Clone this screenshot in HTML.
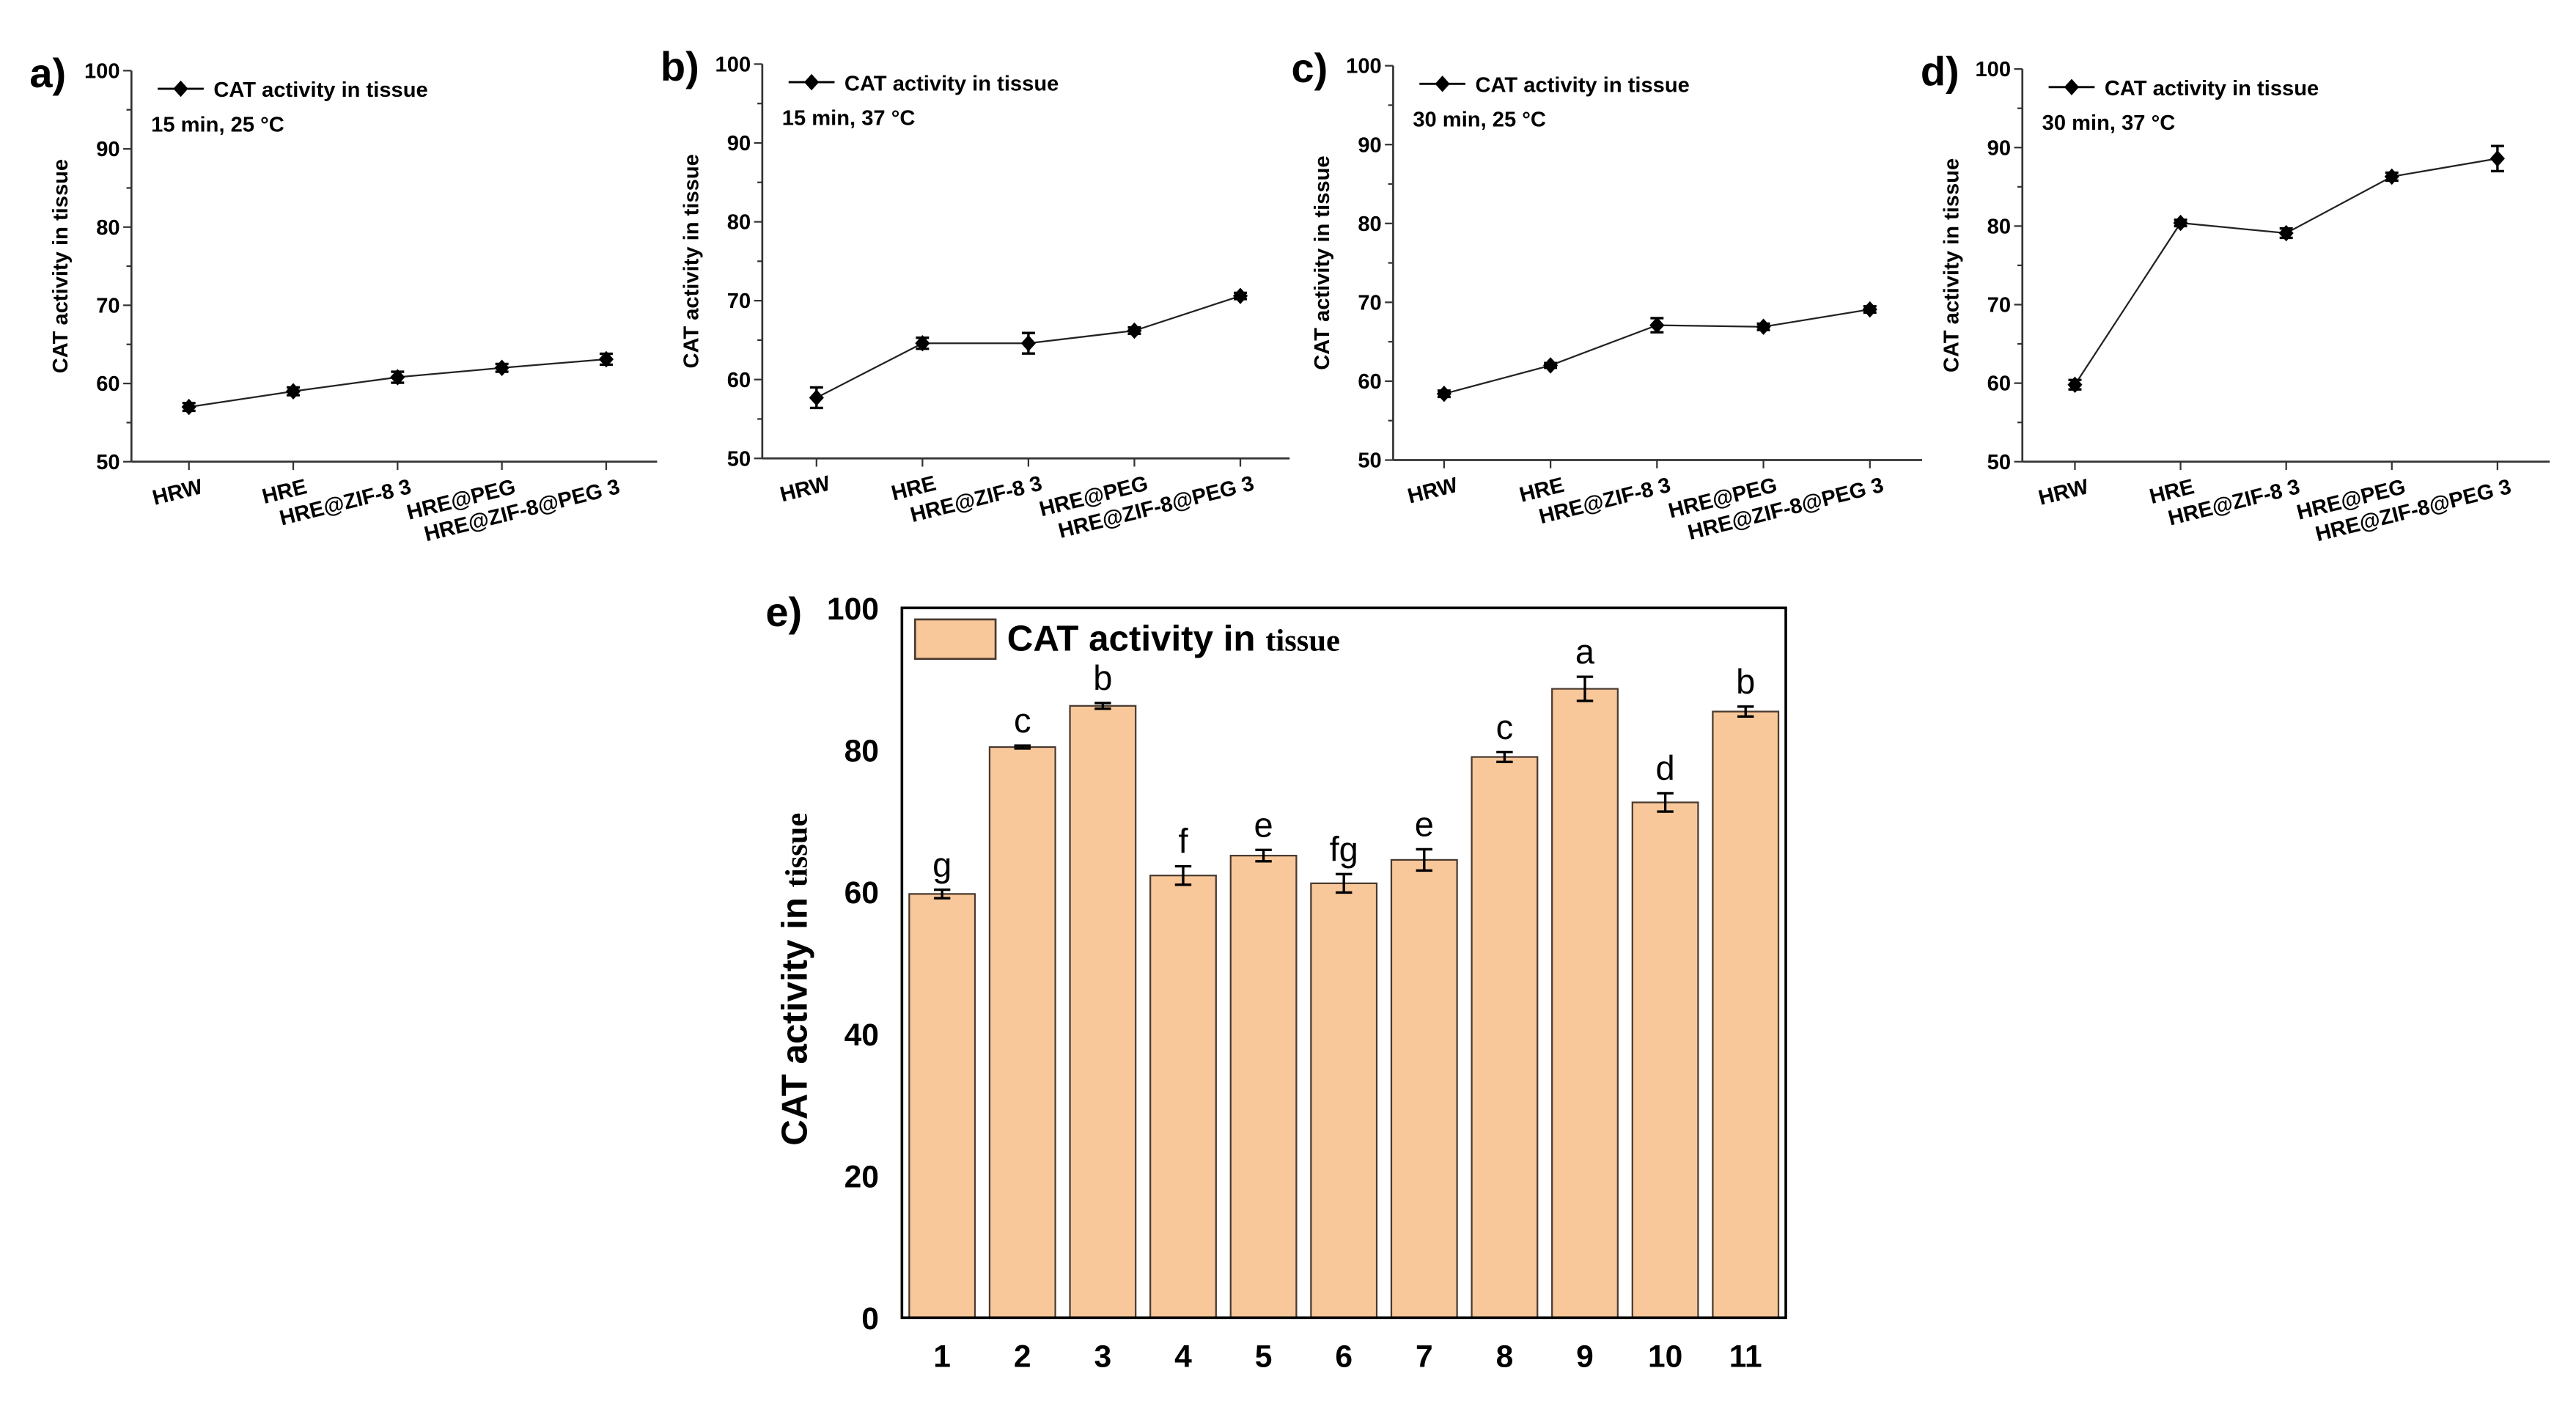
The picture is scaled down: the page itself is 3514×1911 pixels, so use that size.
<!DOCTYPE html>
<html><head><meta charset="utf-8"><style>
html,body{margin:0;padding:0;background:#fff;}
svg{display:block;}
text{font-family:"Liberation Sans",Arial,sans-serif;}
</style></head><body>
<svg id="fig" width="3514" height="1911" viewBox="0 0 1568 852.7" xmlns="http://www.w3.org/2000/svg">
<rect width="1568" height="853" fill="#fff"/>
</svg>
<script>
const NS='http://www.w3.org/2000/svg';
const svg=document.getElementById('fig');
function mk(tag,attrs,parent,txt){const e=document.createElementNS(NS,tag);for(const k in attrs)e.setAttribute(k,attrs[k]);if(txt!==undefined)e.textContent=txt;(parent||svg).appendChild(e);return e;}

// ---- line panel data ----
const lineCategories=['HRW','HRE','HRE@ZIF-8 3','HRE@PEG','HRE@ZIF-8@PEG 3'];
const panelA=[57.0,59.0,60.8,62.0,63.1];
const panelAerr=[0.5,0.5,0.7,0.5,0.7];
const panelB=[57.7,64.6,64.6,66.2,70.6];
const panelBerr=[1.3,0.7,1.3,0.4,0.4];
const panelC=[58.4,62.0,67.1,66.9,69.1];
const panelCerr=[0.4,0.3,0.9,0.4,0.4];
const panelD=[59.8,80.4,79.1,86.3,88.6];
const panelDerr=[0.6,0.4,0.6,0.5,1.6];
const lineTicks=[50,60,70,80,90,100];

// ---- bar panel data ----
const barCategories=['1','2','3','4','5','6','7','8','9','10','11'];
const barValues=[59.7,80.4,86.2,62.3,65.1,61.2,64.5,79.0,88.6,72.6,85.4];
const barErrors=[0.6,0.2,0.4,1.3,0.8,1.3,1.5,0.7,1.7,1.3,0.7];
const barLetters=['g','c','b','f','e','fg','e','c','a','d','b'];
const barTicks=[0,20,40,60,80,100];

const panels=[
 {id:'a',label:'a)',cond:'15 min, 25 °C',vals:panelA,errs:panelAerr,ax:80,top:43,bot:281,right:400,x0:115,dx:63.5},
 {id:'b',label:'b)',cond:'15 min, 37 °C',vals:panelB,errs:panelBerr,ax:464,top:39,bot:279,right:785,x0:497,dx:64.5},
 {id:'c',label:'c)',cond:'30 min, 25 °C',vals:panelC,errs:panelCerr,ax:848,top:40,bot:280,right:1170,x0:879,dx:64.8},
 {id:'d',label:'d)',cond:'30 min, 37 °C',vals:panelD,errs:panelDerr,ax:1231,top:42,bot:281,right:1552,x0:1263,dx:64.3}
];

panels.forEach(p=>{
  const g=mk('g',{});
  
  
  const y=v=>p.bot-(v-50)/50*(p.bot-p.top);
  const x=i=>p.x0+i*p.dx;
  const pl=mk('text',{x:p.ax-62,y:p.top+10,'font-size':25,'font-weight':'bold'},g,p.label);
  
  
  mk('line',{x1:p.ax,y1:p.top,x2:p.ax,y2:p.bot,stroke:'#333','stroke-width':1.2},g);
  mk('line',{x1:p.ax,y1:p.bot,x2:p.right,y2:p.bot,stroke:'#333','stroke-width':1.2},g);
  for(let v=50;v<=100;v+=5){
    const major=lineTicks.includes(v);
    mk('line',{x1:p.ax-(major?5:3),y1:y(v),x2:p.ax,y2:y(v),stroke:'#333','stroke-width':1},g);
  }
  lineTicks.forEach(v=>{
    const t=mk('text',{x:p.ax-7,y:y(v)+4.5,'font-size':13,'font-weight':'bold','text-anchor':'end'},g,String(v));
    
    
  });
  const yl=mk('text',{transform:`translate(${p.ax-39},${(p.top+p.bot)/2}) rotate(-90)`,'font-size':13,'font-weight':'bold','text-anchor':'middle'},g,'CAT activity in tissue');
  
  
  lineCategories.forEach((c,i)=>{
    mk('line',{x1:x(i),y1:p.bot,x2:x(i),y2:p.bot+5,stroke:'#333','stroke-width':1},g);
    const t=mk('text',{transform:`translate(${x(i)+9},${p.bot+19}) rotate(-14)`,'font-size':13,'font-weight':'bold','text-anchor':'end'},g,c);
    
    
  });
  let d='';
  p.vals.forEach((v,i)=>{d+=(i?'L':'M')+x(i)+','+y(v);});
  const ln=mk('path',{d:d,fill:'none',stroke:'#222','stroke-width':1},g);
  
  
  p.vals.forEach((v,i)=>{
    const e=p.errs[i];
    mk('path',{d:`M${x(i)},${y(v+e)}V${y(v-e)}M${x(i)-4},${y(v+e)}H${x(i)+4}M${x(i)-4},${y(v-e)}H${x(i)+4}`,stroke:'#000','stroke-width':1.5,fill:'none'},g);
    const m=mk('path',{d:`M${x(i)},${y(v)-5}L${x(i)+4.5},${y(v)}L${x(i)},${y(v)+5}L${x(i)-4.5},${y(v)}Z`,fill:'#000'},g);
    
    
  });
  const lg=mk('g',{},g);
  
  
  mk('line',{x1:p.ax+16,y1:p.top+11,x2:p.ax+44,y2:p.top+11,stroke:'#000','stroke-width':1.3},lg);
  mk('path',{d:`M${p.ax+30},${p.top+6}l4.5,5l-4.5,5l-4.5,-5z`,fill:'#000'},lg);
  mk('text',{x:p.ax+50,y:p.top+16,'font-size':13,'font-weight':'bold'},lg,'CAT activity in tissue');
  const cd=mk('text',{x:p.ax+12,y:p.top+37,'font-size':13,'font-weight':'bold'},g,p.cond);
  
  
});

// ---- bar chart e ----
(function(){
  const L=549,R=1087,T=370,B=802;
  const g=mk('g',{});
  
  
  const y=v=>B-v/100*(B-T);
  const step=(R-L)/barCategories.length;
  const x=i=>L+step*(i+0.5);
  const bw=40;
  const pl=mk('text',{x:466,y:381,'font-size':25,'font-weight':'bold'},g,'e)');
  
  
  barValues.forEach((v,i)=>{
    const b=mk('rect',{x:x(i)-bw/2,y:y(v),width:bw,height:B-y(v),fill:'#f9c89a',stroke:'#4a3a30','stroke-width':1},g);
    
    
    const e=barErrors[i];
    mk('path',{d:`M${x(i)},${y(v+e)}V${y(v-e)}M${x(i)-5},${y(v+e)}H${x(i)+5}M${x(i)-5},${y(v-e)}H${x(i)+5}`,stroke:'#000','stroke-width':1.5,fill:'none'},g);
    const lt=mk('text',{x:x(i),y:y(v+e)-8,'font-size':21,'text-anchor':'middle'},g,barLetters[i]);
    
    
    const t=mk('text',{x:x(i),y:B+30,'font-size':19,'font-weight':'bold','text-anchor':'middle'},g,barCategories[i]);
    
    
  });
  mk('rect',{x:L,y:T,width:R-L,height:B-T,fill:'none',stroke:'#000','stroke-width':1.6},g);
  barTicks.forEach(v=>{
    const t=mk('text',{x:L-14,y:y(v)+7,'font-size':19,'font-weight':'bold','text-anchor':'end'},g,String(v));
    
    
  });
  const yl=mk('text',{transform:`translate(491,${(T+B)/2+10}) rotate(-90)`,'font-size':22,'font-weight':'bold','text-anchor':'middle'},g);
  
  
  mk('tspan',{},yl,'CAT activity in ');
  mk('tspan',{'font-family':'Liberation Serif,serif','font-size':19},yl,'tissue');
  const lg=mk('g',{},g);
  
  
  mk('rect',{x:557,y:377,width:49,height:24,fill:'#f9c89a',stroke:'#4a3a30','stroke-width':1.2},lg);
  const lt=mk('text',{x:613,y:396,'font-size':22,'font-weight':'bold'},lg);
  mk('tspan',{},lt,'CAT activity in ');
  mk('tspan',{'font-family':'Liberation Serif,serif','font-size':19},lt,'tissue');
})();
</script>
</body></html>
